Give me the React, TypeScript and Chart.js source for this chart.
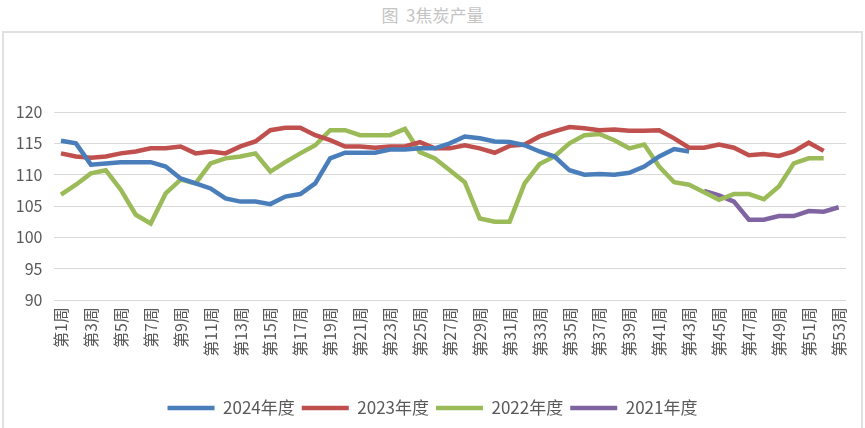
import React, { useEffect, useRef } from "react";
import { Chart, registerables } from "chart.js";

Chart.register(...registerables);

const weeks = [
  "第1周", "第2周", "第3周", "第4周", "第5周", "第6周", "第7周", "第8周", "第9周", "第10周",
  "第11周", "第12周", "第13周", "第14周", "第15周", "第16周", "第17周", "第18周", "第19周", "第20周",
  "第21周", "第22周", "第23周", "第24周", "第25周", "第26周", "第27周", "第28周", "第29周", "第30周",
  "第31周", "第32周", "第33周", "第34周", "第35周", "第36周", "第37周", "第38周", "第39周", "第40周",
  "第41周", "第42周", "第43周", "第44周", "第45周", "第46周", "第47周", "第48周", "第49周", "第50周",
  "第51周", "第52周", "第53周",
];

const seriesNames = ["2024年度", "2023年度", "2022年度", "2021年度"];

const values2024: (number | null)[] = [
  115.4, 115.0, 111.6, 111.8, 112.0, 112.0, 112.0, 111.3, 109.4, 108.6,
  107.8, 106.2, 105.7, 105.7, 105.3, 106.5, 106.9, 108.6, 112.6, 113.5,
  113.5, 113.5, 114.0, 114.0, 114.2, 114.2, 115.0, 116.1, 115.8, 115.3,
  115.2, 114.7, 113.7, 112.9, 110.7, 110.0, 110.1, 110.0, 110.3, 111.3,
  112.9, 114.1, 113.7, null, null, null, null, null, null, null,
  null, null, null,
];

const values2023: (number | null)[] = [
  113.4, 112.9, 112.7, 112.9, 113.4, 113.7, 114.2, 114.2, 114.5, 113.4,
  113.7, 113.4, 114.5, 115.3, 117.1, 117.5, 117.5, 116.3, 115.5, 114.5,
  114.5, 114.3, 114.5, 114.5, 115.2, 114.2, 114.2, 114.7, 114.2, 113.5,
  114.6, 114.8, 116.1, 116.9, 117.6, 117.4, 117.1, 117.2, 117.0, 117.0,
  117.1, 115.8, 114.3, 114.3, 114.8, 114.3, 113.1, 113.3, 113.0, 113.7,
  115.1, 113.8, null,
];

const values2022: (number | null)[] = [
  106.8, 108.4, 110.2, 110.7, 107.6, 103.6, 102.2, 107.0, 109.2, 108.6,
  111.8, 112.6, 112.9, 113.4, 110.5, 112.0, 113.4, 114.7, 117.1, 117.1,
  116.3, 116.3, 116.3, 117.3, 113.6, 112.6, 110.7, 108.8, 103.0, 102.5,
  102.5, 108.6, 111.7, 112.9, 115.0, 116.3, 116.5, 115.5, 114.2, 114.8,
  111.3, 108.8, 108.4, 107.2, 106.0, 106.9, 106.9, 106.1, 108.1, 111.8,
  112.6, 112.6, null,
];

const values2021: (number | null)[] = [
  null, null, null, null, null, null, null, null, null, null,
  null, null, null, null, null, null, null, null, null, null,
  null, null, null, null, null, null, null, null, null, null,
  null, null, null, null, null, null, null, null, null, null,
  null, null, null, 107.4, 106.7, 105.7, 102.8, 102.8, 103.4, 103.4,
  104.2, 104.1, 104.8,
];

const yTicks = [90, 95, 100, 105, 110, 115, 120];

const colors = ["#4a7ebb", "#c0504d", "#9bbb59", "#8064a2"];
const FONT = '"Noto Sans CJK SC", "Noto Sans", sans-serif';

export default function App() {
  const ref = useRef<HTMLCanvasElement | null>(null);

  useEffect(() => {
    const allValues = [values2024, values2023, values2022, values2021];
    const chart = new Chart(ref.current as HTMLCanvasElement, {
      type: "line",
      data: {
        labels: weeks,
        datasets: allValues.map((vals, i) => ({
          label: seriesNames[i],
          data: vals,
          borderColor: colors[i],
          backgroundColor: colors[i],
          borderWidth: 4.5,
          pointRadius: 0,
          pointHoverRadius: 0,
          tension: 0,
          fill: false,
          spanGaps: false,
        })),
      },
      options: {
        responsive: false,
        devicePixelRatio: 1,
        animation: false,
        layout: { padding: { top: 112, right: 15.5, left: 15.5, bottom: 1.5 } },
        plugins: {
          title: { display: false },
          tooltip: { enabled: false },
          legend: {
            position: "bottom",
            labels: {
              usePointStyle: true,
              pointStyle: "line",
              pointStyleWidth: 47,
              boxHeight: 17,
              padding: 7,
              color: "#595959",
              font: { family: FONT, size: 17 },
            },
          },
        },
        scales: {
          x: {
            offset: true,
            grid: { display: false, drawTicks: false },
            border: { display: false },
            ticks: {
              autoSkip: false,
              minRotation: 90,
              maxRotation: 90,
              padding: 7,
              color: "#595959",
              font: { family: FONT, size: 16 },
              callback: (_v: any, idx: number) => (idx % 2 === 0 ? weeks[idx] : ""),
            },
            afterFit: (scale: any) => {
              scale.height = 92.5;
            },
          },
          y: {
            min: yTicks[0],
            max: yTicks[yTicks.length - 1],
            grid: { color: "#d9d9d9", lineWidth: 1, drawTicks: false },
            border: { display: false },
            afterBuildTicks: (scale: any) => {
              scale.ticks = yTicks.map((v) => ({ value: v }));
            },
            ticks: {
              padding: 11,
              color: "#595959",
              font: { family: FONT, size: 16 },
            },
            afterFit: (scale: any) => {
              scale.width = 38;
            },
          },
        },
      },
    });
    return () => chart.destroy();
  }, []);

  return (
    <div
      style={{
        position: "absolute",
        left: 0,
        top: 0,
        width: 865,
        height: 428,
        overflow: "hidden",
        background: "#ffffff",
      }}
    >
      <div
        style={{
          position: "absolute",
          left: 0,
          top: 4,
          width: 865,
          textAlign: "center",
          fontFamily: FONT,
          fontSize: 17,
          lineHeight: "22px",
          color: "#c4c4c4",
          whiteSpace: "pre",
        }}
      >
        {"图  3焦炭产量"}
      </div>
      <div
        style={{
          position: "absolute",
          left: 2,
          top: 31,
          width: 861,
          height: 420,
          border: "2px solid #e0e0e0",
          boxSizing: "border-box",
        }}
      />
      <canvas
        ref={ref}
        width={865}
        height={428}
        style={{ position: "absolute", left: 0, top: 0, width: 865, height: 428 }}
      />
    </div>
  );
}
